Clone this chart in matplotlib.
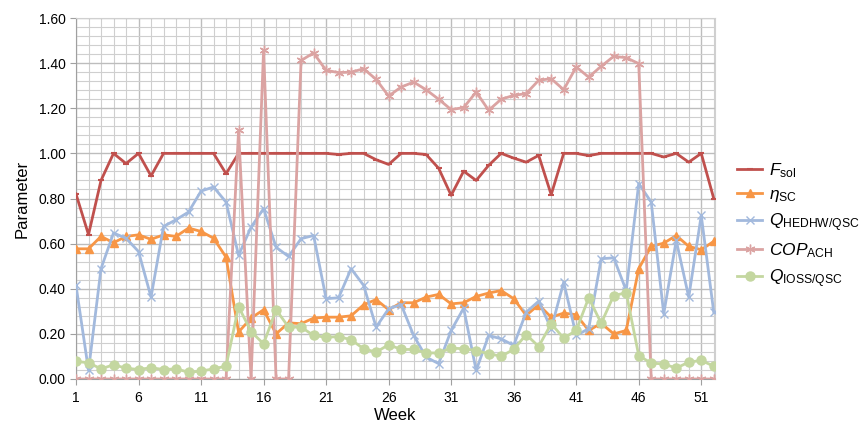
import matplotlib
matplotlib.use("Agg")
import matplotlib.pyplot as plt
from matplotlib.ticker import MultipleLocator, FixedLocator, FormatStrFormatter

plt.rcParams['font.family'] = ['Liberation Sans', 'DejaVu Sans']
plt.rcParams['mathtext.fontset'] = 'custom'
plt.rcParams['mathtext.rm'] = 'Liberation Sans'
plt.rcParams['mathtext.it'] = 'Liberation Sans:italic'
plt.rcParams['mathtext.bf'] = 'Liberation Sans:bold'

weeks = list(range(1, 53))

f_sol = [0.82, 0.64, 0.88, 1.00, 0.955, 1.00, 0.90, 1.00, 1.00, 1.00,
         1.00, 1.00, 0.91, 1.00, 1.00, 1.00, 1.00, 1.00, 1.00, 1.00,
         1.00, 0.995, 1.00, 1.00, 0.972, 0.951, 1.00, 1.00, 0.995, 0.934,
         0.814, 0.921, 0.88, 0.947, 1.00, 0.979, 0.961, 0.991, 0.817, 1.00,
         1.00, 0.99, 1.00, 1.00, 1.00, 1.00, 1.00, 0.984, 1.00, 0.961,
         1.00, 0.80]

eta_sc = [0.577, 0.577, 0.632, 0.604, 0.632, 0.639, 0.619, 0.639, 0.632, 0.669,
          0.654, 0.624, 0.540, 0.208, 0.270, 0.307, 0.200, 0.249, 0.245, 0.270,
          0.274, 0.274, 0.280, 0.329, 0.352, 0.307, 0.338, 0.338, 0.363, 0.375,
          0.333, 0.338, 0.366, 0.381, 0.392, 0.356, 0.282, 0.329, 0.274, 0.292,
          0.285, 0.215, 0.247, 0.200, 0.215, 0.489, 0.588, 0.602, 0.636, 0.588,
          0.573, 0.610]

q_hedhw = [0.415, 0.038, 0.489, 0.647, 0.624, 0.565, 0.363, 0.676, 0.706, 0.740,
           0.833, 0.851, 0.784, 0.548, 0.673, 0.755, 0.584, 0.543, 0.622, 0.636,
           0.356, 0.360, 0.489, 0.415, 0.230, 0.311, 0.330, 0.193, 0.097, 0.068,
           0.215, 0.314, 0.038, 0.193, 0.178, 0.149, 0.296, 0.345, 0.223, 0.429,
           0.193, 0.223, 0.533, 0.537, 0.392, 0.866, 0.784, 0.289, 0.614, 0.363,
           0.725, 0.296]

cop_ach = [0.0, 0.0, 0.0, 0.0, 0.0, 0.0, 0.0, 0.0, 0.0, 0.0,
           0.0, 0.0, 0.0, 1.102, 0.0, 1.457, 0.0, 0.0, 1.412, 1.445,
           1.368, 1.358, 1.360, 1.375, 1.328, 1.254, 1.294, 1.316, 1.282, 1.240,
           1.194, 1.203, 1.272, 1.191, 1.240, 1.257, 1.265, 1.324, 1.331, 1.282,
           1.383, 1.338, 1.386, 1.430, 1.424, 1.398, 0.0, 0.0, 0.0, 0.0,
           0.0, 0.0]

q_ioss = [0.078, 0.072, 0.045, 0.063, 0.048, 0.042, 0.050, 0.042, 0.045, 0.030,
          0.035, 0.045, 0.057, 0.321, 0.210, 0.156, 0.307, 0.230, 0.230, 0.193,
          0.185, 0.188, 0.174, 0.134, 0.119, 0.152, 0.131, 0.131, 0.116, 0.115,
          0.137, 0.134, 0.126, 0.112, 0.101, 0.131, 0.197, 0.144, 0.245, 0.181,
          0.215, 0.360, 0.247, 0.370, 0.382, 0.104, 0.070, 0.067, 0.048, 0.075,
          0.082, 0.057]

labels = [r'$F_{\mathrm{sol}}$', r'$\eta_{\mathrm{SC}}$', r'$Q_{\mathrm{HEDHW/QSC}}$',
          r'$COP_{\mathrm{ACH}}$', r'$Q_{\mathrm{IOSS/QSC}}$']
xtick_labels = [1, 6, 11, 16, 21, 26, 31, 36, 41, 46, 51]

fig = plt.figure(figsize=(8.66, 4.30), dpi=100)
ax = fig.add_axes([76/866, (430-379)/430, (715-76)/866, (379-18)/430])

ax.plot(weeks, f_sol, color='#C0504D', lw=2.0, marker='_', ms=5, mew=1.5, label=labels[0], zorder=3)
ax.plot(weeks, eta_sc, color='#F79646', lw=2.0, marker='^', ms=6, label=labels[1], zorder=3)
ax.plot(weeks, q_hedhw, color='#A2B9DD', lw=2.0, marker='x', ms=6, mew=1.0, label=labels[2], zorder=3)
ax.plot(weeks, cop_ach, color='#DBA3A2', lw=2.0, marker=(6, 2, 0), ms=7, mew=1.0, label=labels[3], zorder=3)
ax.plot(weeks, q_ioss, color='#C4D7A0', lw=2.0, marker='o', ms=6.5, label=labels[4], zorder=3)

ax.set_xlim(1, 52.1)
ax.set_ylim(0, 1.6)
ax.xaxis.set_major_locator(FixedLocator(xtick_labels))
ax.xaxis.set_minor_locator(MultipleLocator(1))
ax.yaxis.set_major_locator(MultipleLocator(0.2))
ax.yaxis.set_minor_locator(MultipleLocator(0.04))
ax.yaxis.set_major_formatter(FormatStrFormatter('%.2f'))

ax.grid(which='major', color='#bdbdbd', lw=1.0, zorder=0)
ax.grid(which='minor', color='#cfcfcf', lw=0.8, zorder=0)
ax.set_axisbelow(True)

for s in ['top', 'right']:
    ax.spines[s].set_color('#d0d0d0')
for s in ['left', 'bottom']:
    ax.spines[s].set_color('#a0a0a0')
ax.tick_params(axis='both', which='major', labelsize=10, color='#a0a0a0', length=4)
ax.tick_params(axis='both', which='minor', length=0)
ax.tick_params(axis='x', pad=5)

ax.set_xlabel('Week', fontsize=12, labelpad=2)
ax.set_ylabel('Parameter', fontsize=12, labelpad=6)

leg = ax.legend(loc='center left', bbox_to_anchor=(1.035, 0.425), frameon=False,
                fontsize=12.5, handlelength=1.4, labelspacing=0.42, handletextpad=0.45,
                borderaxespad=0.0, borderpad=0.0)

fig.savefig('out.png', dpi=100)
